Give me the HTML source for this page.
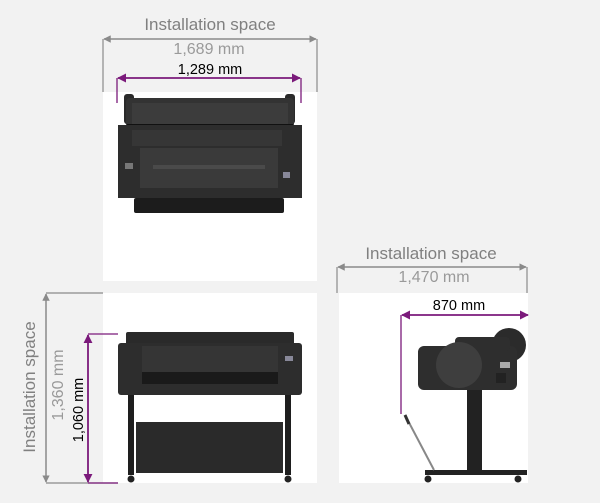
<!DOCTYPE html>
<html><head><meta charset="utf-8"><style>
html,body{margin:0;padding:0;background:#f2f2f2;}
svg{display:block;font-family:"Liberation Sans",Arial,sans-serif;}
</style></head><body>
<svg width="600" height="503" viewBox="0 0 600 503" xmlns="http://www.w3.org/2000/svg">
<defs>
<marker id="ga" viewBox="0 0 10 10" refX="9" refY="5" markerWidth="5" markerHeight="5" orient="auto-start-reverse"><path d="M0,0L10,5L0,10z" fill="#8a8a8a"/></marker>
<marker id="pa" viewBox="0 0 10 10" refX="9" refY="5" markerWidth="5" markerHeight="5" orient="auto-start-reverse"><path d="M0,0L10,5L0,10z" fill="#7b1a7b"/></marker>
</defs>
<rect width="600" height="503" fill="#f2f2f2"/>
<!-- panels -->
<rect x="103" y="92" width="214" height="189" fill="#fff"/>
<rect x="103" y="293" width="214" height="190" fill="#fff"/>
<rect x="339" y="293" width="189" height="190" fill="#fff"/>

<!-- top dimensions -->
<text x="210" y="30" font-size="17" fill="#808080" text-anchor="middle">Installation space</text>
<line x1="103" y1="39" x2="103" y2="92" stroke="#8a8a8a" stroke-width="1.2"/>
<line x1="317" y1="39" x2="317" y2="92" stroke="#8a8a8a" stroke-width="1.2"/>
<line x1="104" y1="39" x2="316" y2="39" stroke="#8a8a8a" stroke-width="1.5" marker-start="url(#ga)" marker-end="url(#ga)"/>
<text x="209" y="54" font-size="16" fill="#9a9a9a" text-anchor="middle">1,689 mm</text>
<text x="210" y="74" font-size="14.5" fill="#000" text-anchor="middle">1,289 mm</text>
<line x1="117" y1="78" x2="117" y2="103" stroke="#7b1a7b" stroke-width="1.3"/>
<line x1="301" y1="78" x2="301" y2="103" stroke="#7b1a7b" stroke-width="1.3"/>
<line x1="118" y1="78" x2="300" y2="78" stroke="#7b1a7b" stroke-width="1.8" marker-start="url(#pa)" marker-end="url(#pa)"/>

<!-- top printer -->
<rect x="124" y="94" width="10" height="30" rx="3" fill="#2a2a2a"/>
<rect x="285" y="94" width="10" height="30" rx="3" fill="#2a2a2a"/>
<rect x="126" y="98" width="168" height="30" rx="4" fill="#333"/>
<rect x="132" y="103" width="156" height="22" fill="#3c3c3c"/>
<rect x="127" y="124" width="166" height="6" fill="#111"/>
<rect x="118" y="125" width="184" height="73" fill="#2d2d2d"/>
<rect x="132" y="130" width="150" height="16" fill="#363636"/>
<rect x="140" y="148" width="138" height="40" fill="#3a3a3a"/>
<rect x="153" y="165" width="112" height="4" fill="#4a4a4a"/>
<rect x="283" y="172" width="7" height="6" fill="#889"/>
<rect x="125" y="163" width="8" height="6" fill="#777"/>
<rect x="134" y="198" width="150" height="15" rx="2" fill="#1c1c1c"/>

<!-- right dimensions -->
<text x="431" y="259" font-size="17" fill="#808080" text-anchor="middle">Installation space</text>
<line x1="337" y1="267" x2="337" y2="293" stroke="#8a8a8a" stroke-width="1.2"/>
<line x1="527" y1="267" x2="527" y2="293" stroke="#8a8a8a" stroke-width="1.2"/>
<line x1="338" y1="267" x2="526" y2="267" stroke="#8a8a8a" stroke-width="1.5" marker-start="url(#ga)" marker-end="url(#ga)"/>
<text x="434" y="282" font-size="16" fill="#9a9a9a" text-anchor="middle">1,470 mm</text>
<text x="459" y="310" font-size="14.5" fill="#000" text-anchor="middle">870 mm</text>
<line x1="401" y1="315" x2="401" y2="414" stroke="#7b1a7b" stroke-width="1.3"/>
<line x1="402" y1="315" x2="528" y2="315" stroke="#7b1a7b" stroke-width="1.8" marker-start="url(#pa)" marker-end="url(#pa)"/>

<!-- side printer -->
<circle cx="509" cy="345" r="17" fill="#2b2b2b"/>
<rect x="418" y="346" width="99" height="44" rx="6" fill="#2e2e2e"/>
<rect x="455" y="337" width="55" height="14" rx="4" fill="#2e2e2e"/>
<ellipse cx="459" cy="365" rx="23" ry="23" fill="#3e3e3e"/>
<rect x="500" y="362" width="10" height="6" fill="#aaa"/>
<rect x="496" y="373" width="10" height="10" fill="#222"/>
<rect x="467" y="390" width="15" height="80" fill="#222"/>
<rect x="425" y="470" width="102" height="5" fill="#222"/>
<circle cx="428" cy="479" r="3.5" fill="#222"/>
<circle cx="518" cy="479" r="3.5" fill="#222"/>
<line x1="405" y1="415" x2="434" y2="470" stroke="#888" stroke-width="2"/>
<line x1="405" y1="415" x2="409" y2="424" stroke="#333" stroke-width="3"/>

<!-- left dimensions -->
<line x1="46" y1="293" x2="103" y2="293" stroke="#8a8a8a" stroke-width="1.2"/>
<line x1="46" y1="483" x2="118" y2="483" stroke="#8a8a8a" stroke-width="1.2"/>
<line x1="46" y1="294" x2="46" y2="482" stroke="#8a8a8a" stroke-width="1.5" marker-start="url(#ga)" marker-end="url(#ga)"/>
<text transform="translate(35,387) rotate(-90)" font-size="17" fill="#808080" text-anchor="middle">Installation space</text>
<text transform="translate(63,385) rotate(-90)" font-size="16" fill="#9a9a9a" text-anchor="middle">1,360 mm</text>
<text transform="translate(83,410) rotate(-90)" font-size="14.5" fill="#000" text-anchor="middle">1,060 mm</text>
<line x1="88" y1="334" x2="118" y2="334" stroke="#7b1a7b" stroke-width="1.3"/>
<line x1="88" y1="483" x2="118" y2="483" stroke="#7b1a7b" stroke-width="1.3"/>
<line x1="88" y1="335" x2="88" y2="482" stroke="#7b1a7b" stroke-width="1.8" marker-start="url(#pa)" marker-end="url(#pa)"/>

<!-- front printer -->
<rect x="126" y="332" width="168" height="14" rx="2" fill="#2a2a2a"/>
<rect x="118" y="343" width="184" height="52" rx="3" fill="#2d2d2d"/>
<rect x="142" y="346" width="136" height="26" fill="#353535"/>
<rect x="142" y="372" width="136" height="12" fill="#1a1a1a"/>
<rect x="285" y="356" width="8" height="5" fill="#889"/>
<rect x="128" y="395" width="6" height="80" fill="#1e1e1e"/>
<rect x="285" y="395" width="6" height="80" fill="#1e1e1e"/>
<rect x="136" y="422" width="147" height="51" fill="#2a2a2a"/>
<circle cx="131" cy="479" r="3.5" fill="#222"/>
<circle cx="288" cy="479" r="3.5" fill="#222"/>
</svg>
</body></html>
